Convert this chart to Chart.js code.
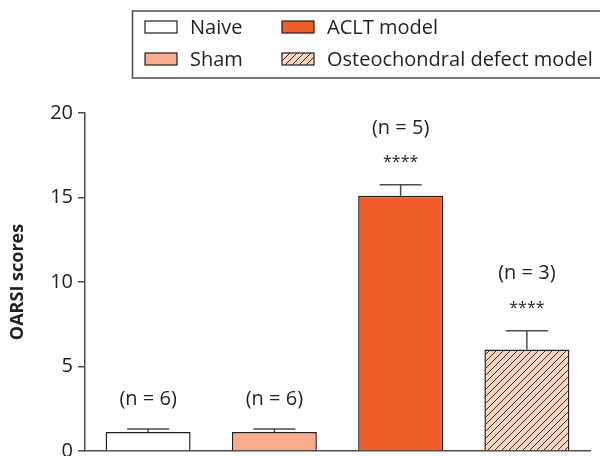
<!DOCTYPE html>
<html>
<head>
<meta charset="utf-8">
<script src="https://cdn.jsdelivr.net/npm/chart.js@4"></script>
<style>
  html, body { margin: 0; padding: 0; background: #fff; }
  #wrap { width: 600px; height: 456px; }
</style>
</head>
<body>
<div id="wrap"><canvas id="oarsiChart" width="600" height="456"></canvas></div>
<script>
const groups = ['Naive', 'Sham', 'ACLT model', 'Osteochondral defect model'];
const oarsiMean = [1.12, 1.12, 15.1, 6.0];
const oarsiSem = [0.18, 0.18, 0.65, 1.12];
const nLabels = ['(n = 6)', '(n = 6)', '(n = 5)', '(n = 3)'];
const sigLabels = ['', '', '****', '****'];
const yTicks = [0, 5, 10, 15, 20];

const FONT = '"Open Sans", Lato, sans-serif';
const INK = '#231f20';

function hatch() {
  const c = document.createElement('canvas');
  c.width = 7; c.height = 7;
  const g = c.getContext('2d');
  g.fillStyle = '#fcd7c4';
  g.fillRect(0, 0, 7, 7);
  g.strokeStyle = '#3b2a24';
  g.lineWidth = 1;
  g.beginPath();
  g.moveTo(-1, 8); g.lineTo(8, -1);
  g.moveTo(-1, 1); g.lineTo(1, -1);
  g.moveTo(6, 8); g.lineTo(8, 6);
  g.stroke();
  return g.createPattern(c, 'repeat');
}

const fills = ['#ffffff', '#f7ad8d', '#ef5e29', hatch()];

// error bars + n / significance labels
const extras = {
  id: 'extras',
  afterDatasetsDraw(chart) {
    const { ctx, scales: { y } } = chart;
    const meta = chart.getDatasetMeta(0);
    ctx.save();
    meta.data.forEach((bar, i) => {
      const top = y.getPixelForValue(oarsiMean[i] + oarsiSem[i]);
      ctx.strokeStyle = '#4d4d4d';
      ctx.lineWidth = 1.5;
      ctx.beginPath();
      ctx.moveTo(bar.x, bar.y);
      ctx.lineTo(bar.x, top);
      ctx.moveTo(bar.x - 21, top);
      ctx.lineTo(bar.x + 21, top);
      ctx.stroke();

      ctx.fillStyle = INK;
      ctx.textAlign = 'center';
      ctx.textBaseline = 'middle';
      if (sigLabels[i]) {
        ctx.font = '16px ' + FONT;
        ctx.fillText(sigLabels[i], bar.x, top - 22);
        ctx.font = '20px ' + FONT;
        ctx.fillText(nLabels[i], bar.x, top - 57);
      } else {
        ctx.font = '20px ' + FONT;
        ctx.fillText(nLabels[i], bar.x, top - 30);
      }
    });
    ctx.restore();
  }
};

// boxed legend in two columns
const boxLegend = {
  id: 'boxLegend',
  afterDraw(chart) {
    const ctx = chart.ctx;
    ctx.save();
    ctx.strokeStyle = '#4d4d4d';
    ctx.lineWidth = 1.5;
    ctx.strokeRect(132.5, 11, 480, 67);
    const cols = [145, 282];
    const rows = [27, 59];
    ctx.font = '20px ' + FONT;
    ctx.textBaseline = 'middle';
    ctx.textAlign = 'left';
    // order: Naive, Sham (col 1), ACLT, OCD (col 2)
    groups.forEach((g, i) => {
      const cx = cols[Math.floor(i / 2)];
      const cy = rows[i % 2];
      ctx.fillStyle = fills[i];
      ctx.fillRect(cx, cy - 6, 32, 12);
      ctx.strokeStyle = INK;
      ctx.lineWidth = 1.2;
      ctx.strokeRect(cx, cy - 6, 32, 12);
      ctx.fillStyle = INK;
      ctx.fillText(g, cx + 45, cy + 1);
    });
    ctx.restore();
  }
};

new Chart(document.getElementById('oarsiChart'), {
  type: 'bar',
  data: {
    labels: groups,
    datasets: [{
      data: oarsiMean,
      backgroundColor: fills,
      borderColor: INK,
      borderWidth: 1.5,
      categoryPercentage: 1,
      barPercentage: 0.673
    }]
  },
  options: {
    responsive: false,
    animation: false,
    layout: { padding: { top: 113, right: 10, left: 0, bottom: 0 } },
    plugins: {
      legend: { display: false },
      tooltip: { enabled: false }
    },
    scales: {
      x: {
        grid: { display: false },
        border: { color: '#4d4d4d', width: 1.5 },
        ticks: { display: false },
        afterFit(s) { s.height = 5; }
      },
      y: {
        min: 0,
        max: 20,
        afterBuildTicks(s) { s.ticks = yTicks.map(v => ({ value: v })); },
        grid: { drawOnChartArea: false, tickLength: 7, color: '#4d4d4d', lineWidth: 1.5 },
        border: { color: '#4d4d4d', width: 1.5 },
        ticks: { color: INK, font: { family: FONT, size: 20 }, padding: 5 },
        title: {
          display: true,
          text: 'OARSI scores',
          color: INK,
          font: { family: FONT, size: 18, weight: 'bold' },
          padding: { top: 7, bottom: 0 }
        },
        afterFit(s) {
          s.width = 85;
          s.paddingTop = 0;
          s.paddingBottom = 0;
        }
      }
    }
  },
  plugins: [extras, boxLegend]
});
</script>
</body>
</html>
